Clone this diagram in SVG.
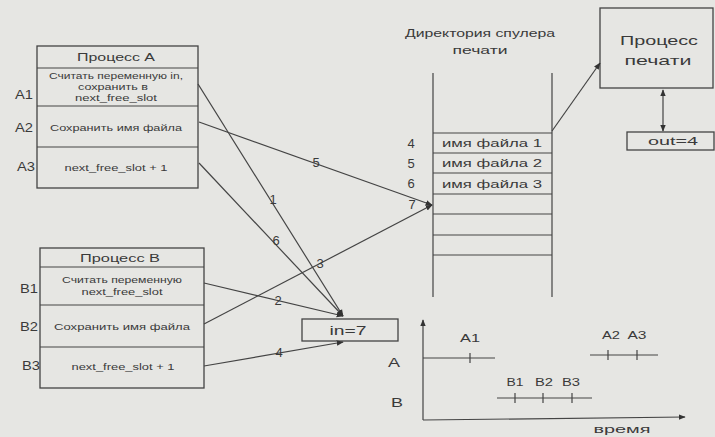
<svg xmlns="http://www.w3.org/2000/svg" width="715" height="437" viewBox="0 0 715 437">
<defs>
<style>
text{font-family:"Liberation Sans",Arial,sans-serif;fill:#3a3a3a}
.box{fill:none;stroke:#444;stroke-width:1.3}
.ln{fill:none;stroke:#444;stroke-width:1.2}
.sm{font-size:9px;text-anchor:middle}
.md{font-size:10px;text-anchor:middle}
.lab{font-size:13px}
.big{font-size:13px;text-anchor:middle}
.num{font-size:13px;text-anchor:middle}
</style>
<marker id="ah" viewBox="0 0 10 10" refX="9" refY="5" markerWidth="7" markerHeight="7" orient="auto-start-reverse" markerUnits="userSpaceOnUse">
<path d="M0,1 L10,5 L0,9 z" fill="#333"/>
</marker>
</defs>
<rect width="715" height="437" fill="#e6e6e3"/>

<g id="procA">
<rect class="box" x="37" y="46" width="161" height="142"/>
<line class="ln" x1="37" y1="68" x2="198" y2="68"/>
<line class="ln" x1="37" y1="106" x2="198" y2="106"/>
<line class="ln" x1="37" y1="147" x2="198" y2="147"/>
<text class="md" x="116" y="61" textLength="78" lengthAdjust="spacingAndGlyphs">Процесс А</text>
<text class="sm" x="116" y="79" textLength="134" lengthAdjust="spacingAndGlyphs">Считать переменную in,</text>
<text class="sm" x="113" y="90" textLength="70" lengthAdjust="spacingAndGlyphs">сохранить в</text>
<text class="sm" x="116" y="101" textLength="82" lengthAdjust="spacingAndGlyphs">next_free_slot</text>
<text class="sm" x="116" y="131" textLength="132" lengthAdjust="spacingAndGlyphs">Сохранить имя файла</text>
<text class="sm" x="116" y="171" textLength="103" lengthAdjust="spacingAndGlyphs">next_free_slot + 1</text>
<text class="lab" x="15" y="99" textLength="18" lengthAdjust="spacingAndGlyphs">A1</text>
<text class="lab" x="15" y="132" textLength="18" lengthAdjust="spacingAndGlyphs">A2</text>
<text class="lab" x="17" y="171" textLength="18" lengthAdjust="spacingAndGlyphs">A3</text>
</g>

<g id="procB">
<rect class="box" x="40" y="248" width="164" height="140"/>
<line class="ln" x1="40" y1="267" x2="204" y2="267"/>
<line class="ln" x1="40" y1="305" x2="204" y2="305"/>
<line class="ln" x1="40" y1="347" x2="204" y2="347"/>
<text class="md" x="120" y="262" textLength="80" lengthAdjust="spacingAndGlyphs">Процесс В</text>
<text class="sm" x="122" y="283" textLength="120" lengthAdjust="spacingAndGlyphs">Считать переменную</text>
<text class="sm" x="122" y="295" textLength="81" lengthAdjust="spacingAndGlyphs">next_free_slot</text>
<text class="sm" x="122" y="330" textLength="136" lengthAdjust="spacingAndGlyphs">Сохранить имя файла</text>
<text class="sm" x="123" y="370" textLength="103" lengthAdjust="spacingAndGlyphs">next_free_slot + 1</text>
<text class="lab" x="20" y="293" textLength="18" lengthAdjust="spacingAndGlyphs">B1</text>
<text class="lab" x="20" y="331" textLength="18" lengthAdjust="spacingAndGlyphs">B2</text>
<text class="lab" x="22" y="370" textLength="18" lengthAdjust="spacingAndGlyphs">B3</text>
</g>

<g id="spool">
<text class="md" x="480" y="37" textLength="150" lengthAdjust="spacingAndGlyphs">Директория спулера</text>
<text class="md" x="480" y="54" textLength="55" lengthAdjust="spacingAndGlyphs">печати</text>
<line class="ln" x1="433" y1="73" x2="433" y2="297"/>
<line class="ln" x1="552" y1="73" x2="552" y2="297"/>
<line class="ln" x1="433" y1="133" x2="552" y2="133"/>
<line class="ln" x1="433" y1="153" x2="552" y2="153"/>
<line class="ln" x1="433" y1="173" x2="552" y2="173"/>
<line class="ln" x1="433" y1="194" x2="552" y2="194"/>
<line class="ln" x1="433" y1="214" x2="552" y2="214"/>
<line class="ln" x1="433" y1="235" x2="552" y2="235"/>
<line class="ln" x1="433" y1="255" x2="552" y2="255"/>
<text class="md" x="492" y="147" textLength="100" lengthAdjust="spacingAndGlyphs">имя файла 1</text>
<text class="md" x="492" y="167" textLength="100" lengthAdjust="spacingAndGlyphs">имя файла 2</text>
<text class="md" x="492" y="188" textLength="100" lengthAdjust="spacingAndGlyphs">имя файла 3</text>
<text class="num" x="411" y="148">4</text>
<text class="num" x="411" y="168">5</text>
<text class="num" x="411" y="188">6</text>
<text class="num" x="412" y="209">7</text>
</g>

<g id="printer">
<rect class="box" x="600" y="8" width="113" height="80"/>
<text class="big" x="659" y="45" textLength="78" lengthAdjust="spacingAndGlyphs">Процесс</text>
<text class="big" x="658" y="65" textLength="67" lengthAdjust="spacingAndGlyphs">печати</text>
</g>

<g id="out">
<rect class="box" x="627" y="132" width="87" height="18"/>
<text class="md" x="673" y="145" textLength="50" lengthAdjust="spacingAndGlyphs">out=4</text>
</g>

<g id="in">
<rect class="box" x="302" y="319" width="96" height="22"/>
<text class="big" x="348" y="335" textLength="37" lengthAdjust="spacingAndGlyphs">in=7</text>
</g>

<g id="connectors">
<line class="ln" x1="552" y1="131" x2="600" y2="63" marker-end="url(#ah)"/>
<line class="ln" x1="663" y1="90" x2="663" y2="131" marker-start="url(#ah)" marker-end="url(#ah)"/>
<line class="ln" x1="198" y1="84" x2="343" y2="316" marker-end="url(#ah)"/>
<line class="ln" x1="199" y1="163" x2="343" y2="316" marker-end="url(#ah)"/>
<line class="ln" x1="204" y1="283" x2="343" y2="316" marker-end="url(#ah)"/>
<line class="ln" x1="199" y1="122" x2="432" y2="205" marker-end="url(#ah)"/>
<line class="ln" x1="204" y1="324" x2="432" y2="205" marker-end="url(#ah)"/>
<line class="ln" x1="204" y1="366" x2="343" y2="342" marker-end="url(#ah)"/>
<text class="num" x="273" y="204">1</text>
<text class="num" x="276" y="245">6</text>
<text class="num" x="278" y="305">2</text>
<text class="num" x="316" y="167">5</text>
<text class="num" x="320" y="268">3</text>
<text class="num" x="279" y="357">4</text>
</g>

<g id="timeline">
<line class="ln" x1="423" y1="420" x2="423" y2="320" marker-end="url(#ah)"/>
<line class="ln" x1="423" y1="420" x2="685" y2="417" marker-end="url(#ah)"/>
<text class="lab" x="388" y="367" textLength="12" lengthAdjust="spacingAndGlyphs">A</text>
<text class="lab" x="391" y="407" textLength="12" lengthAdjust="spacingAndGlyphs">B</text>
<line class="ln" x1="423" y1="358" x2="495" y2="358"/>
<line class="ln" x1="470" y1="353" x2="470" y2="363"/>
<text class="md" x="470" y="342" textLength="20" lengthAdjust="spacingAndGlyphs">A1</text>
<line class="ln" x1="590" y1="355" x2="658" y2="355"/>
<line class="ln" x1="608" y1="350" x2="608" y2="360"/>
<line class="ln" x1="637" y1="350" x2="637" y2="360"/>
<text class="md" x="611" y="339" textLength="18" lengthAdjust="spacingAndGlyphs">A2</text>
<text class="md" x="637" y="339" textLength="19" lengthAdjust="spacingAndGlyphs">A3</text>
<line class="ln" x1="497" y1="398" x2="592" y2="398"/>
<line class="ln" x1="515" y1="393" x2="515" y2="403"/>
<line class="ln" x1="543" y1="393" x2="543" y2="403"/>
<line class="ln" x1="572" y1="393" x2="572" y2="403"/>
<text class="md" x="515" y="386" textLength="17" lengthAdjust="spacingAndGlyphs">B1</text>
<text class="md" x="544" y="386" textLength="18" lengthAdjust="spacingAndGlyphs">B2</text>
<text class="md" x="571" y="386" textLength="18" lengthAdjust="spacingAndGlyphs">B3</text>
<text class="md" x="622" y="433" textLength="57" lengthAdjust="spacingAndGlyphs">время</text>
</g>
</svg>
